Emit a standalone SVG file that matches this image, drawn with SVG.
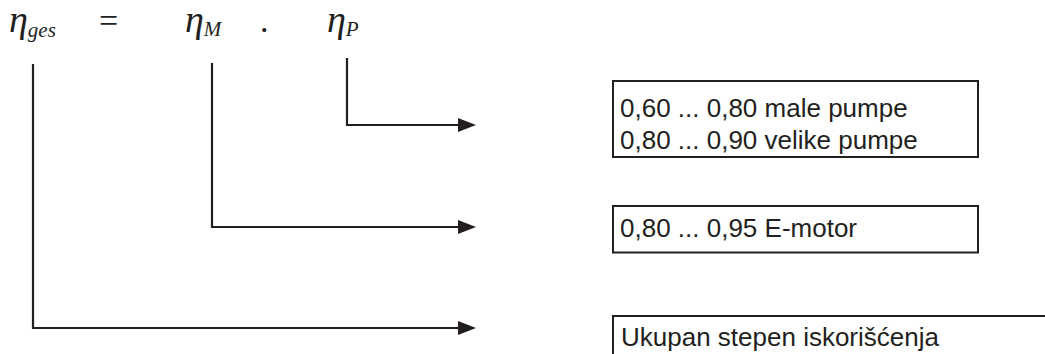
<svg xmlns="http://www.w3.org/2000/svg" width="1045" height="354" viewBox="0 0 1045 354">
  <style>
    .eq { font-family: "Liberation Serif", "DejaVu Serif", serif; font-style: italic; fill: #231f20; }
    .op { font-family: "Liberation Serif", "DejaVu Serif", serif; fill: #231f20; }
    .lbl { font-family: "Liberation Sans", Arial, sans-serif; font-size: 26px; fill: #231f20; }
    .box { fill: none; stroke: #231f20; stroke-width: 2; }
    .conn { fill: none; stroke: #231f20; stroke-width: 2.2; }
    .head { fill: #231f20; }
  </style>
  <rect width="1045" height="354" fill="#ffffff"/>

  <g id="equation">
    <text class="eq" x="9" y="32" font-size="38">η<tspan font-size="21" dy="5">ges</tspan></text>
    <text class="op" x="99" y="32" font-size="34">=</text>
    <text class="eq" x="185" y="32" font-size="38">η<tspan font-size="21" dy="4">M</tspan></text>
    <text class="op" x="260" y="32" font-size="34">.</text>
    <text class="eq" x="327" y="32" font-size="38">η<tspan font-size="21" dy="4">P</tspan></text>
  </g>

  <g id="connectors">
    <polyline class="conn" points="347,58 347,125 460,125"/>
    <polygon class="head" points="458,118 476,125 458,132"/>
    <polyline class="conn" points="212,63 212,227 460,227"/>
    <polygon class="head" points="458,220 476,227 458,234"/>
    <polyline class="conn" points="33,64 33,328 460,328"/>
    <polygon class="head" points="458,321 476,328 458,335"/>
  </g>

  <g id="box-pumpe">
    <rect class="box" x="613" y="81" width="365" height="76"/>
    <text class="lbl" x="620" y="117">0,60 ... 0,80 male pumpe</text>
    <text class="lbl" x="620" y="148.5">0,80 ... 0,90 velike pumpe</text>
  </g>

  <g id="box-motor">
    <rect class="box" x="613" y="206" width="365" height="46.5"/>
    <text class="lbl" x="620" y="237">0,80 ... 0,95 E-motor</text>
  </g>

  <g id="box-ukupan">
    <path class="box" d="M613,356 V316 H1047"/>
    <text class="lbl" x="621" y="345.5">Ukupan stepen iskorišćenja</text>
  </g>
</svg>
